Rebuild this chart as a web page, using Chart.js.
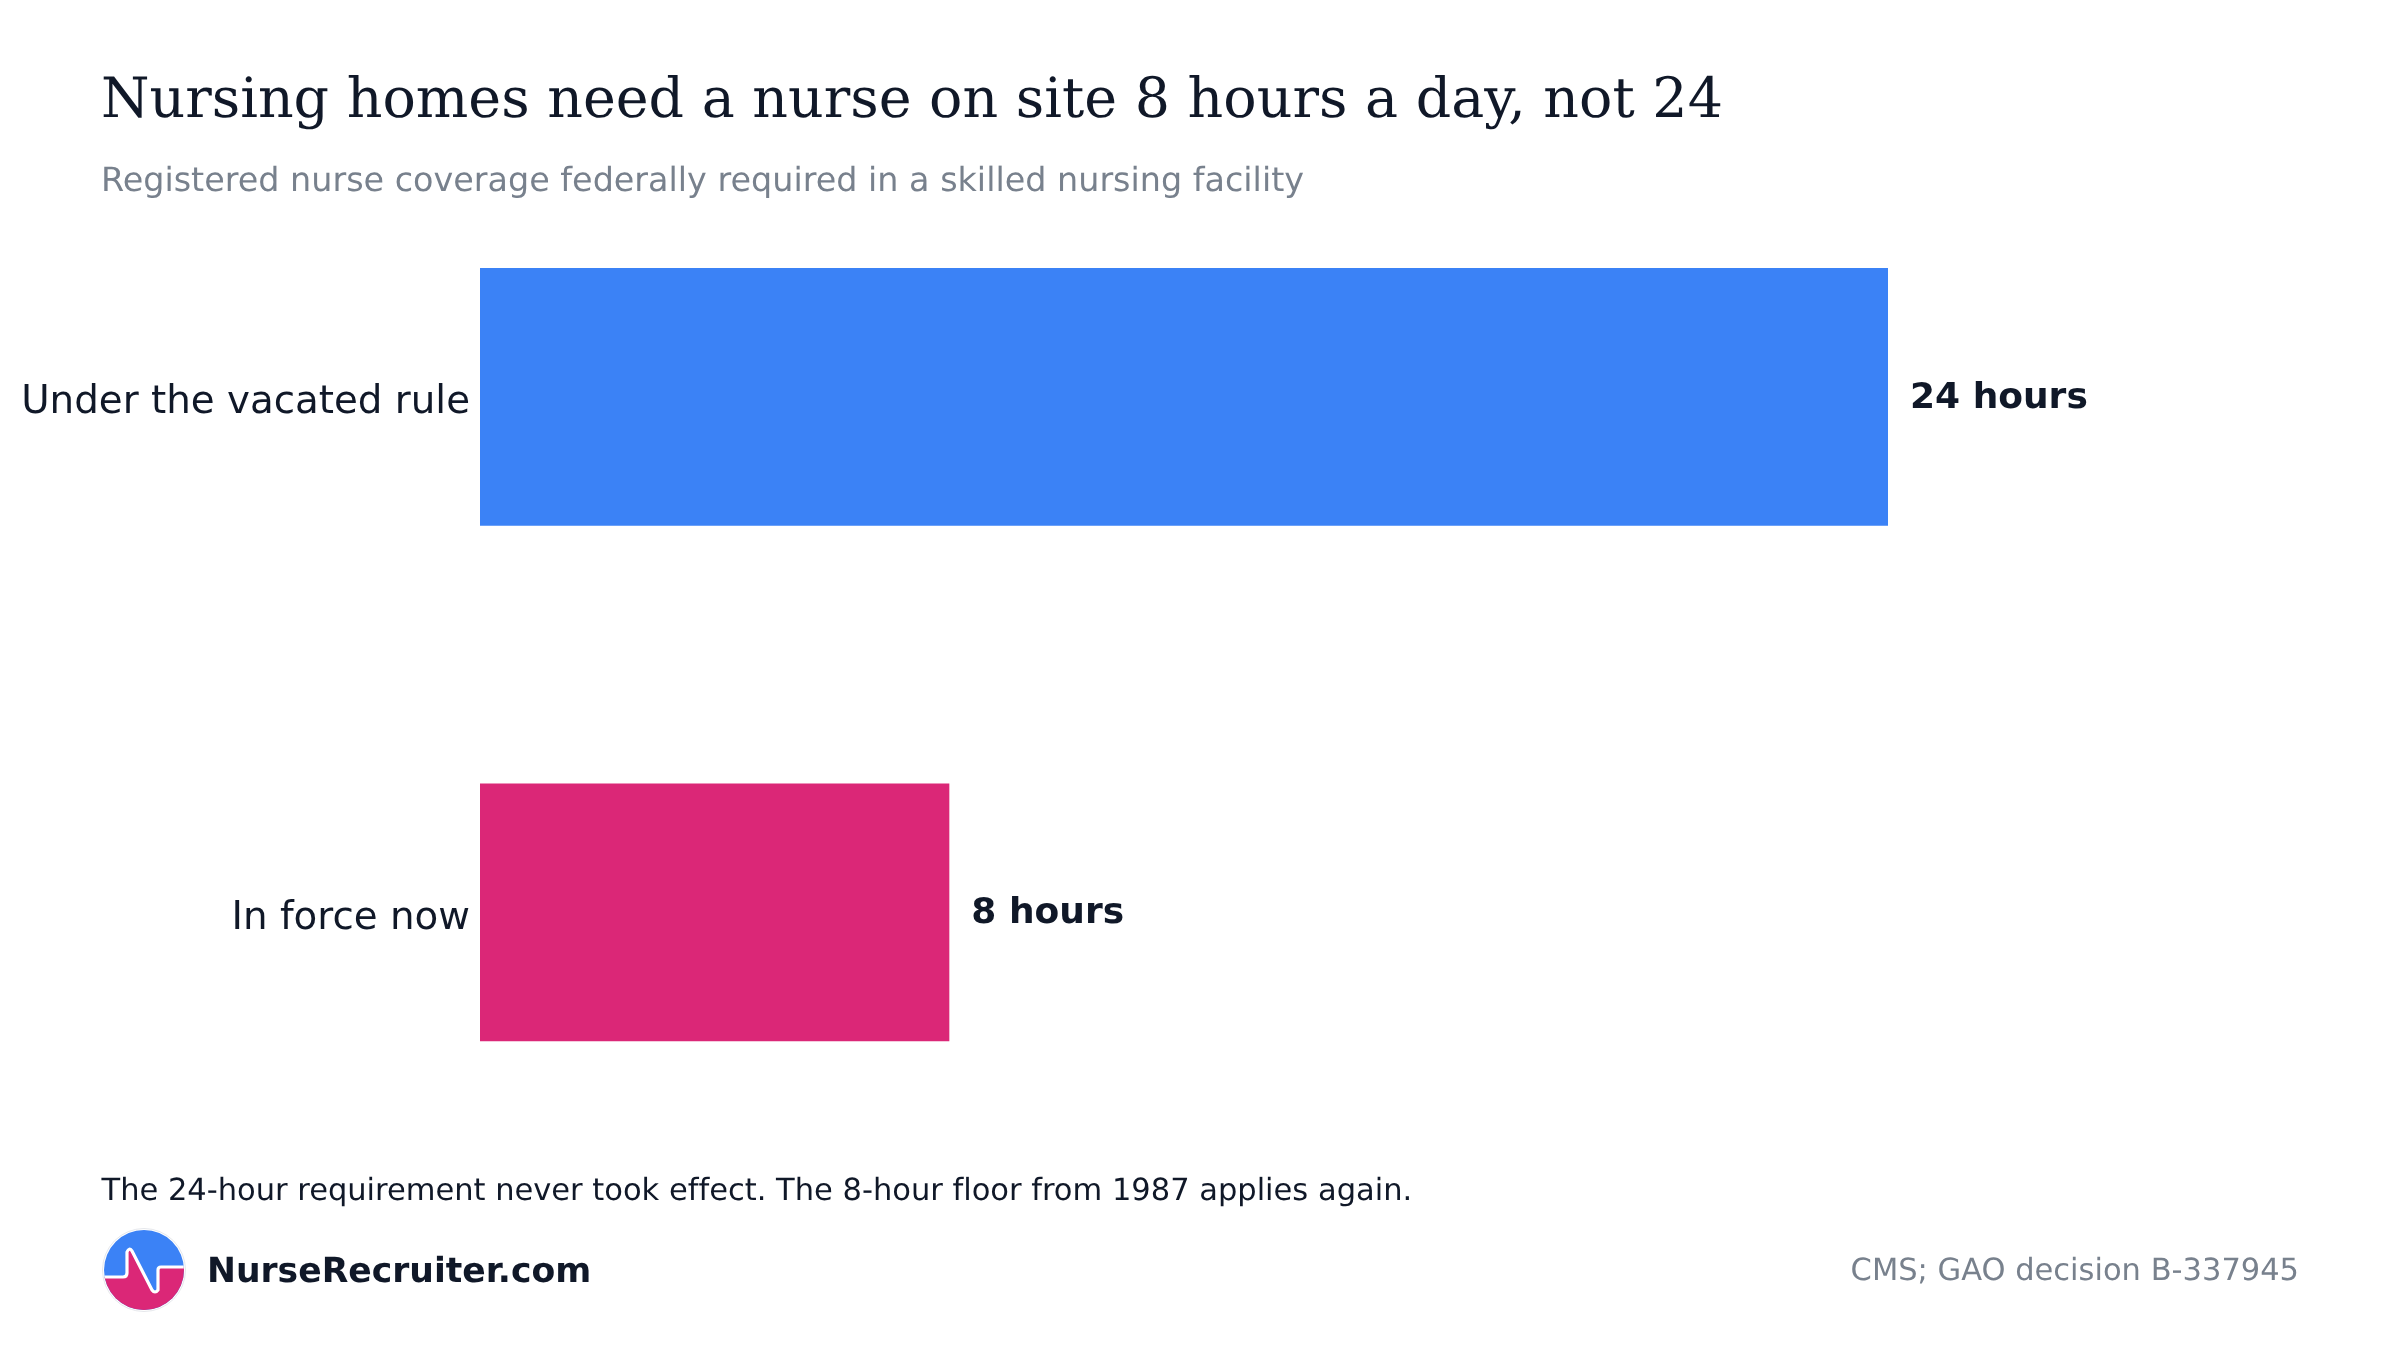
<!DOCTYPE html>
<html>
<head>
<meta charset="utf-8">
<script src="https://cdn.jsdelivr.net/npm/chart.js@4"></script>
<style>
html,body{margin:0;padding:0;background:#fff;width:2400px;height:1350px;overflow:hidden}
#wrap{position:relative;width:2400px;height:1350px}
canvas{position:absolute;left:0;top:0}
.t{position:absolute;white-space:nowrap;line-height:1;font-variant-ligatures:none;text-rendering:geometricPrecision}
#title{left:101px;top:71.5px;font-family:"DejaVu Serif";font-size:55.45px;color:#101828}
#sub{left:101px;top:162.5px;font-family:"DejaVu Sans";font-size:33.4px;color:#78818d}
#note{left:101.5px;top:1176px;font-family:"DejaVu Sans";font-size:30.5px;color:#101828}
#brand{left:207px;top:1253.5px;font-family:"DejaVu Sans";font-weight:bold;font-size:34.6px;color:#101828}
#src{right:101px;top:1256px;font-family:"DejaVu Sans";font-size:30.5px;color:#78818d}
#logo{position:absolute;left:102px;top:1228px}
</style>
</head>
<body>
<div id="wrap">
<canvas id="c" width="2400" height="1350"></canvas>
<div class="t" id="title">Nursing homes need a nurse on site 8 hours a day, not 24</div>
<div class="t" id="sub">Registered nurse coverage federally required in a skilled nursing facility</div>
<div class="t" id="note">The 24-hour requirement never took effect. The 8-hour floor from 1987 applies again.</div>
<svg id="logo" width="84" height="84" viewBox="0 0 84 84">
<defs><clipPath id="cp"><circle cx="42" cy="42" r="40"/></clipPath></defs>
<circle cx="42" cy="42" r="41.5" fill="#fff" stroke="#e5e7eb" stroke-width="1"/>
<g clip-path="url(#cp)">
<rect width="84" height="84" fill="#3b82f6"/>
<path d="M0 49H21Q25 49 25 45V24Q27 19 30 23L50 62Q53 66 56 62V42Q56 39 59 39H84V84H0Z" fill="#db2777"/>
<path d="M0 49H21Q25 49 25 45V24Q27 19 30 23L50 62Q53 66 56 62V42Q56 39 59 39H84" fill="none" stroke="#fff" stroke-width="3.2" stroke-linejoin="round"/>
</g>
</svg>
<div class="t" id="brand">NurseRecruiter.com</div>
<div class="t" id="src">CMS; GAO decision B-337945</div>
</div>
<script>
const categories = ["Under the vacated rule", "In force now"];
const hours = [24, 8];
const barColors = ["#3b82f6", "#db2777"];
const unit = " hours";

const valueLabels = {
  id: "valueLabels",
  afterDatasetsDraw(chart) {
    const ctx = chart.ctx;
    const meta = chart.getDatasetMeta(0);
    ctx.save();
    ctx.font = 'bold 36px "DejaVu Sans"';
    ctx.fillStyle = "#101828";
    ctx.textAlign = "left";
    ctx.textBaseline = "alphabetic";
    meta.data.forEach((bar, i) => {
      ctx.fillText(hours[i] + unit, bar.x + 22, bar.y + 11);
    });
    ctx.restore();
  }
};

new Chart(document.getElementById("c"), {
  type: "bar",
  data: {
    labels: categories,
    datasets: [{
      data: hours,
      backgroundColor: barColors,
      borderWidth: 0,
      categoryPercentage: 1,
      barPercentage: 0.5
    }]
  },
  options: {
    indexAxis: "y",
    responsive: false,
    devicePixelRatio: 1,
    animation: false,
    layout: { padding: { left: 0, top: 139, right: 512, bottom: 180 } },
    plugins: { legend: { display: false }, tooltip: { enabled: false } },
    scales: {
      x: { display: false, min: 0, max: 24 },
      y: {
        afterFit(s) { s.width = 480; },
        border: { display: false },
        grid: { display: false, drawTicks: false },
        ticks: { padding: 10, labelOffset: 6.5, color: "#101828", font: { family: "DejaVu Sans", size: 38.8 } }
      }
    }
  },
  plugins: [valueLabels]
});
</script>
</body>
</html>
